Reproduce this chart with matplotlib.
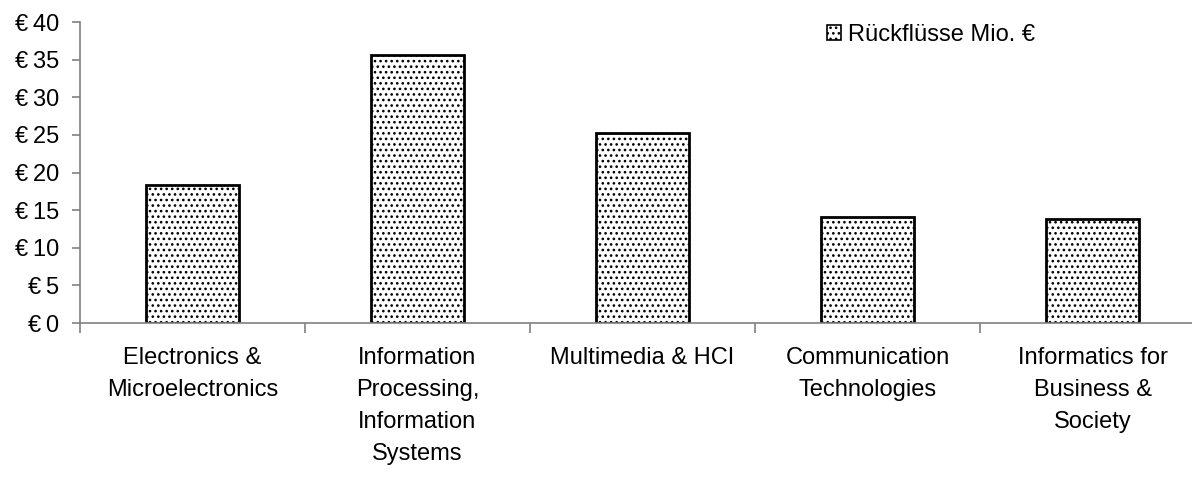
import matplotlib
matplotlib.use("Agg")
import matplotlib.pyplot as plt
import numpy as np

# data
categories = [
    "Electronics &\nMicroelectronics",
    "Information\nProcessing,\nInformation\nSystems",
    "Multimedia & HCI",
    "Communication\nTechnologies",
    "Informatics for\nBusiness &\nSociety",
]
values = [18.3, 35.6, 25.2, 14.1, 13.8]
series_name = "Rückflüsse Mio. €"
y_ticks = [0, 5, 10, 15, 20, 25, 30, 35, 40]

plt.rcParams['font.family'] = ['Liberation Sans', 'DejaVu Sans']
plt.rcParams['hatch.color'] = '#6a6a6a'
plt.rcParams['hatch.linewidth'] = 1.1

fs = 17

fig = plt.figure(figsize=(11.92, 4.78), dpi=100)
ax = fig.add_axes([80 / 1192, 1 - 323 / 478, 5 * 225 / 1192, 301 / 478])

x = np.arange(len(categories))
ax.bar(x, values, width=0.41, color='white', edgecolor='black', linewidth=2,
       hatch='...', label=series_name)

ax.set_xlim(-0.5, len(categories) - 0.5)
ax.set_ylim(0, 40)
ax.set_yticks(y_ticks)
ax.set_yticklabels([f"€\u2009{v}" for v in y_ticks])

ax.set_xticks(x)
ax.set_xticklabels(categories, linespacing=1.6)
ax.set_xticks(np.arange(len(categories) + 1) - 0.5, minor=True)
ax.tick_params(axis='x', which='major', length=0, pad=17, labelsize=fs)
ax.tick_params(axis='x', which='minor', length=7, direction='out',
               color='#808080', width=1.2)
ax.tick_params(axis='y', length=6, direction='out', color='#808080',
               width=1.2, pad=9, labelsize=fs)

for side in ['top', 'right']:
    ax.spines[side].set_visible(False)
for side in ['left', 'bottom']:
    ax.spines[side].set_color('#808080')
    ax.spines[side].set_linewidth(1.2)

leg = ax.legend(loc='upper left', bbox_to_anchor=(0.645, 1.065), frameon=False,
                fontsize=fs, handlelength=0.6, handleheight=0.6,
                handletextpad=0.3)
for h in leg.legend_handles:
    h.set_linewidth(1.2)

fig.savefig("out.png", dpi=100)
